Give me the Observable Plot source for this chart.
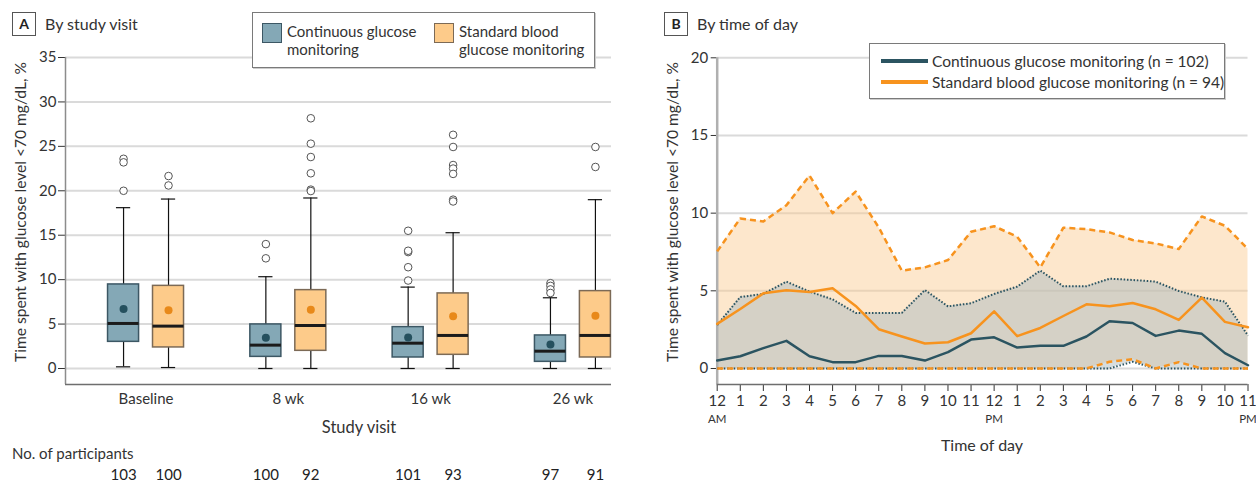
<!DOCTYPE html>
<html>
<head>
<meta charset="utf-8">
<script src="https://cdn.jsdelivr.net/npm/d3@7"></script>
<script src="https://cdn.jsdelivr.net/npm/@observablehq/plot@0.6"></script>
<style>
  html, body { margin: 0; padding: 0; background: #fff; }
  #root { position: relative; width: 1256px; height: 481px; overflow: hidden;
    font-family: Lato, "Liberation Sans", sans-serif; color: #333; }
  .abs { position: absolute; white-space: nowrap; }
  .tag { position: absolute; border: 1px solid #555; font-weight: bold; font-size: 14px; text-align: center; line-height: 22px; color: #222; background: #fff; }
  .title { font-size: 16px; color: #333; }
  .legend { position: absolute; border: 1px solid #7a7a7a; background: #fff; box-shadow: 1px 1px 0 #ccc; }
  .ylab { position: absolute; font-size: 15.6px; color: #333; transform: rotate(-90deg); transform-origin: center center; text-align: center; white-space: nowrap; }
  .lt { position: absolute; font-size: 15px; color: #333; line-height: 18px; white-space: nowrap; }
  .sw { position: absolute; width: 18px; height: 18px; }
  .ln { position: absolute; height: 4px; }
</style>
</head>
<body>
<div id="root">
  <div id="plotA" class="abs" style="left:0;top:0"></div>
  <div id="plotB" class="abs" style="left:640px;top:0"></div>
</div>
<script>
// ---------------- Panel A data (by study visit) ----------------
const visits = ["Baseline", "8 wk", "16 wk", "26 wk"];
const groupNames = ["Continuous glucose monitoring", "Standard blood glucose monitoring"];

const cgmLo     = [0.19, 0, 0, 0];
const cgmQ1     = [3.0, 1.31, 1.24, 0.75];
const cgmMedian = [5.07, 2.63, 2.85, 1.95];
const cgmMean   = [6.7, 3.45, 3.49, 2.7];
const cgmQ3     = [9.46, 4.96, 4.66, 3.72];
const cgmHi     = [18.1, 10.33, 9.16, 7.96];
const cgmOutliers = [[23.6, 23.2, 20.0], [14.0, 12.4], [9.9, 11.4, 13.1, 13.25, 15.5], [9.6, 9.3, 8.9, 8.5]];

const sbgmLo     = [0.11, 0, 0, 0];
const sbgmQ1     = [2.37, 1.99, 1.54, 1.24];
const sbgmMedian = [4.77, 4.84, 3.72, 3.72];
const sbgmMean   = [6.57, 6.6, 5.89, 5.93];
const sbgmQ3     = [9.3, 8.82, 8.45, 8.71];
const sbgmHi     = [19.07, 19.19, 15.28, 19.0];
const sbgmOutliers = [[21.66, 20.6], [28.16, 25.3, 23.8, 21.97, 20.13, 19.97], [26.3, 24.93, 22.9, 22.5, 21.9, 19.0, 18.8], [24.93, 22.68]];

const participantsCGM  = [103, 100, 101, 97];
const participantsSBGM = [100, 92, 93, 91];
const yTicksA = [0, 5, 10, 15, 20, 25, 30, 35];

// ---------------- Panel B data (by time of day) ----------------
const hours = [0,1,2,3,4,5,6,7,8,9,10,11,12,13,14,15,16,17,18,19,20,21,22,23];
const hourLabels = ["12","1","2","3","4","5","6","7","8","9","10","11","12","1","2","3","4","5","6","7","8","9","10","11"];
const ampmHours = [0, 12, 23];
const ampmLabels = ["AM", "PM", "PM"];
const cgmMedianB = [0.51,0.79,1.31,1.78,0.79,0.41,0.41,0.81,0.81,0.51,1.05,1.86,2.01,1.35,1.46,1.46,2.06,3.04,2.93,2.10,2.44,2.23,0.99,0.21];
const cgmUpperB  = [2.80,4.60,4.80,5.59,4.95,4.45,3.58,3.58,3.58,5.05,4.00,4.20,4.80,5.27,6.30,5.29,5.29,5.78,5.70,5.59,4.99,4.58,4.30,2.12];
const cgmLowerB  = [0,0,0,0,0,0,0,0,0,0,0,0,0,0,0,0,0,0,0.43,0,0,0,0,0];
const sbgmMedianB = [2.87,3.83,4.84,5.03,4.93,5.16,4.03,2.53,2.06,1.61,1.69,2.27,3.68,2.08,2.61,3.38,4.13,4.00,4.22,3.81,3.13,4.56,3.00,2.66];
const sbgmUpperB  = [7.54,9.66,9.46,10.51,12.42,10.00,11.39,9.08,6.30,6.51,6.98,8.80,9.16,8.48,6.51,9.06,8.97,8.76,8.27,8.05,7.69,9.79,9.19,7.69];
const sbgmLowerB  = [0,0,0,0,0,0,0,0,0,0,0,0,0,0,0,0,0,0.43,0.60,0,0.41,0,0,0];
const yTicksB = [0, 5, 10, 15, 20];
const legendB = ["Continuous glucose monitoring (n = 102)", "Standard blood glucose monitoring (n = 94)"];

// ---------------- styles ----------------
const FONT = 'Lato, "Liberation Sans", sans-serif';
const cgmFill = "#84a8b6", cgmStroke = "#3c5764", cgmDot = "#25505e";
const sbgmFill = "#fdcb8a", sbgmStroke = "#7c6a56", sbgmDot = "#e8891a";
const tealLine = "#2b5461", orangeLine = "#f7931e";

// ---------------- Panel A ----------------
const rows = visits.flatMap((v, i) => [
  {i, g: 0, lo: cgmLo[i], q1: cgmQ1[i], med: cgmMedian[i], mean: cgmMean[i], q3: cgmQ3[i], hi: cgmHi[i], out: cgmOutliers[i], n: participantsCGM[i]},
  {i, g: 1, lo: sbgmLo[i], q1: sbgmQ1[i], med: sbgmMedian[i], mean: sbgmMean[i], q3: sbgmQ3[i], hi: sbgmHi[i], out: sbgmOutliers[i], n: participantsSBGM[i]}
]);
const OFF = 0.158, HW = 0.109, CAP = 0.05;
const pos = d => d.i + (d.g ? OFF : -OFF);
const outRows = rows.flatMap(d => d.out.map(v => ({...d, v})));
const xDomA = [-0.566, 3.271];
const yDomA = [-1.8, 35];

const plotA = Plot.plot({
  width: 640, height: 481,
  marginLeft: 65, marginRight: 29, marginTop: 57, marginBottom: 97,
  style: {fontFamily: FONT, fontSize: "15px", color: "#333", background: "transparent", overflow: "visible"},
  x: {type: "linear", domain: xDomA, ticks: visits.map((v, i) => i), tickFormat: i => visits[i], tickSize: 0, tickPadding: 9, label: null},
  y: {type: "linear", domain: yDomA, ticks: yTicksA, tickSize: 7, tickPadding: 2, label: null},
  marks: [
    Plot.ruleY(yTicksA, {stroke: "#dadada", strokeWidth: 2}),
    Plot.ruleX([xDomA[0]], {stroke: "#8c8c8c", strokeWidth: 1.5}),
    Plot.ruleY([yDomA[0]], {stroke: "#6e6e6e", strokeWidth: 1.5}),
    // whiskers
    Plot.ruleX(rows, {x: pos, y1: "q3", y2: "hi", stroke: "#111", strokeWidth: 1.2}),
    Plot.ruleX(rows, {x: pos, y1: "lo", y2: "q1", stroke: "#111", strokeWidth: 1.2}),
    Plot.ruleY(rows, {y: "hi", x1: d => pos(d) - CAP, x2: d => pos(d) + CAP, stroke: "#111", strokeWidth: 1.2}),
    Plot.ruleY(rows, {y: "lo", x1: d => pos(d) - CAP, x2: d => pos(d) + CAP, stroke: "#111", strokeWidth: 1.2}),
    // boxes
    Plot.rect(rows, {x1: d => pos(d) - HW, x2: d => pos(d) + HW, y1: "q1", y2: "q3",
      fill: d => d.g ? sbgmFill : cgmFill, stroke: d => d.g ? sbgmStroke : cgmStroke, strokeWidth: 1.5}),
    Plot.ruleY(rows, {y: "med", x1: d => pos(d) - HW, x2: d => pos(d) + HW, stroke: "#1b1b1b", strokeWidth: 3}),
    Plot.dot(rows, {x: pos, y: "mean", r: 4, fill: d => d.g ? sbgmDot : cgmDot, stroke: "none"}),
    Plot.dot(outRows, {x: pos, y: "v", r: 3.8, fill: "#fff", stroke: "#555", strokeWidth: 1}),
    // participants
    Plot.text(rows, {x: pos, text: d => String(d.n), frameAnchor: "bottom", dy: 95, fontSize: 15, fill: "#222"})
  ]
});
document.getElementById("plotA").appendChild(plotA);

// ---------------- Panel B ----------------
const tod = hours.map((h, k) => ({h, cm: cgmMedianB[k], cu: cgmUpperB[k], cl: cgmLowerB[k], sm: sbgmMedianB[k], su: sbgmUpperB[k], sl: sbgmLowerB[k]}));
const ampm = ampmHours.map((h, k) => ({h, t: ampmLabels[k]}));
const xDomB = [0, 23];
const yDomB = [-1.03, 20];
const plotB = Plot.plot({
  width: 616, height: 481,
  marginLeft: 76.7, marginRight: 8.5, marginTop: 57.3, marginBottom: 97,
  style: {fontFamily: FONT, fontSize: "15px", color: "#333", background: "transparent", overflow: "visible"},
  x: {type: "linear", domain: xDomB, ticks: hours, tickFormat: h => hourLabels[h], tickSize: 7, tickPadding: 4, label: null},
  y: {type: "linear", domain: yDomB, ticks: yTicksB, tickSize: 6, tickPadding: 3, label: null},
  marks: [
    Plot.ruleY(yTicksB, {stroke: "#dadada", strokeWidth: 2}),
    Plot.areaY(tod, {x: "h", y1: "sl", y2: "su", fill: "#fbc98d", fillOpacity: 0.45}),
    Plot.areaY(tod, {x: "h", y1: "cl", y2: "cu", fill: "#adbcbf", fillOpacity: 0.5}),
    Plot.ruleX([xDomB[0]], {stroke: "#b0b0b0", strokeWidth: 2.5}),
    Plot.ruleY([yDomB[0]], {stroke: "#6e6e6e", strokeWidth: 1.5}),
    Plot.text(ampm, {x: "h", text: "t", frameAnchor: "bottom", dy: 38, fontSize: 11.5, fill: "#333"}),
    // bounds
    Plot.line(tod, {x: "h", y: "cu", stroke: tealLine, strokeWidth: 2, strokeDasharray: "1.5,1.8", strokeLinecap: "butt"}),
    Plot.line(tod, {x: "h", y: "cl", stroke: tealLine, strokeWidth: 2, strokeDasharray: "1.5,1.8", strokeLinecap: "butt"}),
    Plot.line(tod, {x: "h", y: "su", stroke: orangeLine, strokeWidth: 2.5, strokeDasharray: "6,4", strokeLinecap: "butt"}),
    Plot.line(tod, {x: "h", y: "sl", stroke: orangeLine, strokeWidth: 2.5, strokeDasharray: "6,4", strokeLinecap: "butt"}),
    // medians
    Plot.line(tod, {x: "h", y: "sm", stroke: orangeLine, strokeWidth: 2.5}),
    Plot.line(tod, {x: "h", y: "cm", stroke: tealLine, strokeWidth: 2.5})
  ]
});
document.getElementById("plotB").appendChild(plotB);

// ---------------- HTML annotations ----------------
const root = document.getElementById("root");
function add(html) { root.insertAdjacentHTML("beforeend", html); }
add(`<div class="tag" style="left:12px;top:12px;width:22px;height:22px">A</div>`);
add(`<div class="abs title" style="left:45px;top:14px">By study visit</div>`);
add(`<div class="tag" style="left:664px;top:12px;width:22px;height:22px">B</div>`);
add(`<div class="abs title" style="left:697px;top:14px">By time of day</div>`);
// legend A
add(`<div class="legend" style="left:252px;top:12px;width:341px;height:54px">
  <div class="sw" style="left:9px;top:10px;background:${cgmFill};border:1px solid ${cgmStroke}"></div>
  <div class="lt" style="left:34px;top:9px">Continuous glucose<br>monitoring</div>
  <div class="sw" style="left:181px;top:10px;background:${sbgmFill};border:1px solid ${sbgmStroke}"></div>
  <div class="lt" style="left:206px;top:9px">Standard blood<br>glucose monitoring</div>
</div>`);
// legend B
add(`<div class="legend" style="left:869px;top:43px;width:354px;height:54px">
  <div class="ln" style="left:11px;top:15px;width:47px;background:${tealLine}"></div>
  <div class="lt" style="left:62px;top:8px;font-size:15.5px">${legendB[0]}</div>
  <div class="ln" style="left:11px;top:36px;width:47px;background:${orangeLine}"></div>
  <div class="lt" style="left:62px;top:29px;font-size:15.5px">${legendB[1]}</div>
</div>`);
// axis labels
add(`<div class="ylab" style="left:-145px;top:203px;width:330px">Time spent with glucose level &lt;70 mg/dL, %</div>`);
add(`<div class="ylab" style="left:507px;top:203px;width:330px">Time spent with glucose level &lt;70 mg/dL, %</div>`);
add(`<div class="abs" style="left:359px;top:417px;font-size:16.5px;transform:translateX(-50%)">Study visit</div>`);
add(`<div class="abs" style="left:982px;top:435px;font-size:16px;transform:translateX(-50%)">Time of day</div>`);
add(`<div class="abs" style="left:12px;top:444px;font-size:15px">No. of participants</div>`);
</script>
</body>
</html>
